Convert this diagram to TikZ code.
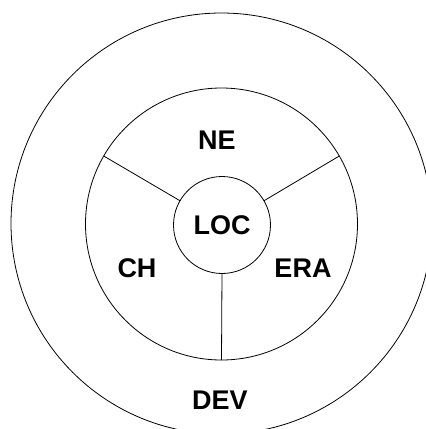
\documentclass[tikz,border=0pt]{standalone}
\usepackage{fontspec}
\setmainfont{Liberation Sans}
\begin{document}
\begin{tikzpicture}[x=1pt,y=-1pt,
  ring/.style={draw=black,line width=0.8pt,circle,inner sep=0pt,outer sep=0pt},
  lab/.style={font=\fontsize{27}{30}\selectfont\bfseries,inner sep=0pt},
  spoke/.style={draw=black,line width=0.8pt}]
\useasboundingbox (0,0) rectangle (426,429);
\clip (0,0) rectangle (426,429);
\fill[white] (0,0) rectangle (426,429);
\node[ring,minimum size=421pt] (outer) at (221.5,223.5) {};
\node[ring,minimum size=272pt] (mid) at (221.5,224) {};
\node[ring,minimum size=97pt,lab] (loc) at (222,225) {LOC};
\draw[spoke] (loc.150) -- (mid.150);
\draw[spoke] (loc.30) -- (mid.30);
\draw[spoke] (loc.270) -- (mid.270);
\node[lab] (ne) at (217,140) {NE};
\node[lab] (ch) at (137,268) {CH};
\node[lab] (era) at (303,268) {ERA};
\node[lab] (dev) at (220,400) {DEV};
\end{tikzpicture}
\end{document}
